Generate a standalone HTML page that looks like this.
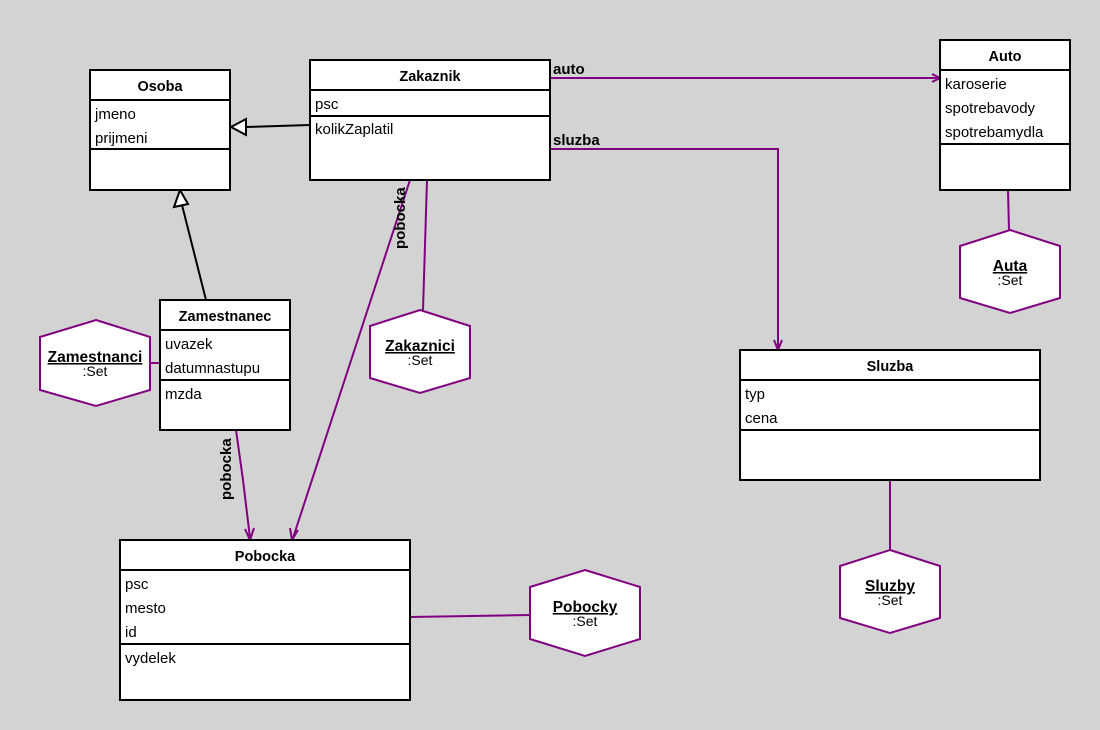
<!DOCTYPE html>
<html><head><style>
html,body{margin:0;padding:0;background:#d3d3d3;}
svg{display:block;font-family:"Liberation Sans",Arial,sans-serif;}
.b{fill:#fff;stroke:#000;stroke-width:2}
.l{stroke:#000;stroke-width:2}
.t{font-size:14.5px;font-weight:bold;text-anchor:middle}
.a{font-size:15px}
.p{stroke:#800080;stroke-width:2;fill:none}
.h{fill:#fff;stroke:#800080;stroke-width:2}
.hn{font-size:15.5px;font-weight:bold;text-anchor:middle;text-decoration:underline}
.hs{font-size:14px;text-anchor:middle}
</style></head><body>
<svg width="1100" height="730" viewBox="0 0 1100 730">
<polyline class="p" points="550,78 938,78"/>
<polyline class="p" points="932,74 940,78 932,82"/>
<text x="553" y="74" class="a" font-weight="bold">auto</text>
<polyline class="p" points="550,149 778,149 778,348"/>
<polyline class="p" points="774,340 778,350 782,340"/>
<text x="553" y="145" class="a" font-weight="bold">sluzba</text>
<line class="p" x1="410" y1="180" x2="293" y2="538"/>
<polyline class="p" points="290,528 292,540 298,530"/>
<text transform="translate(405,249) rotate(-90)" class="a" font-weight="bold">pobocka</text>
<line class="p" x1="427" y1="180" x2="423" y2="310"/>
<polyline class="p" points="236,430 243,480 250,538"/>
<polyline class="p" points="245,529 250,540 254,528"/>
<text transform="translate(231,500) rotate(-90)" class="a" font-weight="bold">pobocka</text>
<line class="p" x1="150" y1="363" x2="160" y2="363"/>
<line class="p" x1="1008" y1="190" x2="1009" y2="230"/>
<line class="p" x1="890" y1="480" x2="890" y2="550"/>
<polyline class="p" points="410,617 530,615"/>
<line class="l" x1="310" y1="125" x2="246" y2="127"/>
<polygon points="231,127 246,119 246,135" fill="#fff" stroke="#000" stroke-width="2"/>
<line class="l" x1="206" y1="300" x2="182" y2="205"/>
<polygon points="180,190 174,207 188,204" fill="#fff" stroke="#000" stroke-width="2"/>
<rect class="b" x="90" y="70" width="140" height="120"/>
<line class="l" x1="90" y1="100" x2="230" y2="100"/>
<line class="l" x1="90" y1="149" x2="230" y2="149"/>
<text x="160" y="91" class="t">Osoba</text>
<text x="95" y="119" class="a">jmeno</text>
<text x="95" y="143" class="a">prijmeni</text>
<rect class="b" x="310" y="60" width="240" height="120"/>
<line class="l" x1="310" y1="90" x2="550" y2="90"/>
<line class="l" x1="310" y1="116" x2="550" y2="116"/>
<text x="430" y="81" class="t">Zakaznik</text>
<text x="315" y="109" class="a">psc</text>
<text x="315" y="134" class="a">kolikZaplatil</text>
<rect class="b" x="940" y="40" width="130" height="150"/>
<line class="l" x1="940" y1="70" x2="1070" y2="70"/>
<line class="l" x1="940" y1="144" x2="1070" y2="144"/>
<text x="1005" y="61" class="t">Auto</text>
<text x="945" y="89" class="a">karoserie</text>
<text x="945" y="113" class="a">spotrebavody</text>
<text x="945" y="137" class="a">spotrebamydla</text>
<rect class="b" x="160" y="300" width="130" height="130"/>
<line class="l" x1="160" y1="330" x2="290" y2="330"/>
<line class="l" x1="160" y1="380" x2="290" y2="380"/>
<text x="225" y="321" class="t">Zamestnanec</text>
<text x="165" y="349" class="a">uvazek</text>
<text x="165" y="373" class="a">datumnastupu</text>
<text x="165" y="399" class="a">mzda</text>
<rect class="b" x="740" y="350" width="300" height="130"/>
<line class="l" x1="740" y1="380" x2="1040" y2="380"/>
<line class="l" x1="740" y1="430" x2="1040" y2="430"/>
<text x="890" y="371" class="t">Sluzba</text>
<text x="745" y="399" class="a">typ</text>
<text x="745" y="423" class="a">cena</text>
<rect class="b" x="120" y="540" width="290" height="160"/>
<line class="l" x1="120" y1="570" x2="410" y2="570"/>
<line class="l" x1="120" y1="644" x2="410" y2="644"/>
<text x="265" y="561" class="t">Pobocka</text>
<text x="125" y="589" class="a">psc</text>
<text x="125" y="613" class="a">mesto</text>
<text x="125" y="637" class="a">id</text>
<text x="125" y="663" class="a">vydelek</text>
<polygon class="h" points="96,320 150,337 150,390 96,406 40,390 40,337"/>
<text x="95" y="362" class="hn">Zamestnanci</text><text x="95" y="376" class="hs">:Set</text>
<polygon class="h" points="420,310 470,326 470,378 420,393 370,378 370,326"/>
<text x="420" y="351" class="hn">Zakaznici</text><text x="420" y="365" class="hs">:Set</text>
<polygon class="h" points="1010,230 1060,246 1060,298 1010,313 960,298 960,246"/>
<text x="1010" y="271" class="hn">Auta</text><text x="1010" y="285" class="hs">:Set</text>
<polygon class="h" points="890,550 940,566 940,618 890,633 840,618 840,566"/>
<text x="890" y="591" class="hn">Sluzby</text><text x="890" y="605" class="hs">:Set</text>
<polygon class="h" points="585,570 640,587 640,639 585,656 530,639 530,587"/>
<text x="585" y="612" class="hn">Pobocky</text><text x="585" y="626" class="hs">:Set</text>
</svg>
</body></html>
